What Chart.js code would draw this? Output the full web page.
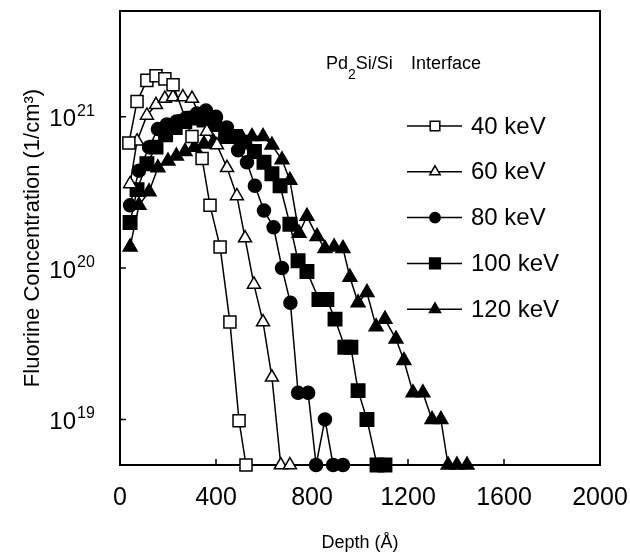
<!DOCTYPE html>
<html>
<head>
<meta charset="utf-8">
<script src="https://cdn.jsdelivr.net/npm/chart.js@4.4.0/dist/chart.umd.min.js"></script>
<style>
  html, body { margin: 0; padding: 0; background: #fff; }
</style>
</head>
<body>
<canvas id="grafica" width="630" height="554"></canvas>
<script>
// valor minimo del eje (puntos bajo el limite de deteccion se dibujan sobre el eje)
const FONDO = 5e18;

// profundidad (Å) y concentracion (1/cm3)
const prof40 = [37, 71, 112, 150, 187, 221, 300, 342, 375, 417, 458, 496, 525];
const conc40 = [6.7e20, 1.26e21, 1.74e21, 1.87e21, 1.78e21, 1.63e21, 7.4e20, 5.3e20, 2.6e20, 1.38e20, 4.4e19, 9.8e18, FONDO];

const prof60 = [42, 71, 112, 150, 187, 221, 262, 300, 362, 404, 446, 487, 521, 558, 596, 633, 670, 708];
const conc60 = [3.6e20, 6.9e20, 1.02e21, 1.2e21, 1.32e21, 1.35e21, 1.35e21, 1.32e21, 8.0e20, 6.5e20, 4.6e20, 3.0e20, 1.58e20, 7.8e19, 4.4e19, 1.9e19, FONDO, FONDO];

const prof80 = [42, 79, 121, 158, 195, 235, 275, 320, 358, 400, 445, 492, 529, 562, 600, 640, 675, 710, 742, 784, 817, 854, 888, 929];
const conc80 = [2.6e20, 4.4e20, 6.3e20, 8.3e20, 8.9e20, 9.3e20, 9.8e20, 1.05e21, 1.1e21, 1.0e21, 8.5e20, 6.0e20, 5.0e20, 3.5e20, 2.4e20, 1.86e20, 1.0e20, 5.9e19, 1.5e19, 1.5e19, FONDO, 1.0e19, FONDO, FONDO];

const prof100 = [42, 71, 112, 150, 190, 230, 270, 310, 350, 395, 440, 480, 520, 560, 600, 633, 667, 708, 742, 779, 829, 862, 896, 937, 962, 992, 1029, 1071, 1104];
const conc100 = [2.0e20, 3.3e20, 4.9e20, 6.3e20, 7.6e20, 8.5e20, 9.3e20, 9.8e20, 9.5e20, 8.9e20, 8.1e20, 7.4e20, 6.8e20, 5.9e20, 5.0e20, 4.2e20, 3.5e20, 1.95e20, 1.12e20, 9.5e19, 6.2e19, 6.2e19, 4.6e19, 3.0e19, 3.0e19, 1.55e19, 1.0e19, FONDO, FONDO];

const prof120 = [42, 79, 121, 158, 200, 235, 271, 310, 350, 390, 430, 470, 510, 550, 596, 633, 675, 708, 746, 779, 821, 854, 892, 929, 958, 992, 1029, 1067, 1104, 1150, 1183, 1221, 1262, 1300, 1337, 1367, 1404, 1446];
const conc120 = [1.38e20, 2.6e20, 3.2e20, 4.6e20, 5.1e20, 5.5e20, 5.9e20, 6.3e20, 6.6e20, 6.8e20, 7.1e20, 7.2e20, 7.2e20, 7.4e20, 7.4e20, 6.5e20, 5.2e20, 3.8e20, 1.7e20, 2.2e20, 1.62e20, 1.35e20, 1.38e20, 1.35e20, 8.7e19, 5.9e19, 6.9e19, 4.1e19, 4.6e19, 3.4e19, 2.45e19, 1.5e19, 1.5e19, 1.0e19, 1.0e19, FONDO, FONDO, FONDO];

const nombres = ["40 keV", "60 keV", "80 keV", "100 keV", "120 keV"];
const ticksX = [0, 400, 800, 1200, 1600, 2000];
const ticksY = [1e19, 1e20, 1e21];
const exponentesY = ["19", "20", "21"];

const FUENTE = "'Liberation Sans', Arial, sans-serif";

// estilo de marcador para cada serie
const marcadores = [
  { estilo: "rect", radio: 8.5, relleno: "#fff" },
  { estilo: "triangle", radio: 7.5, relleno: "#fff" },
  { estilo: "circle", radio: 6.5, relleno: "#000" },
  { estilo: "rect", radio: 9.5, relleno: "#000" },
  { estilo: "triangle", radio: 8, relleno: "#000" }
];

const series = [[prof40, conc40], [prof60, conc60], [prof80, conc80], [prof100, conc100], [prof120, conc120]];

const datasets = series.map(([p, c], i) => ({
  label: nombres[i],
  data: p.map((x, k) => ({ x: x, y: c[k] })),
  borderColor: "#000",
  borderWidth: 1.5,
  backgroundColor: marcadores[i].relleno,
  pointStyle: marcadores[i].estilo,
  pointRadius: marcadores[i].radio,
  pointBorderWidth: 1.5,
  pointBorderColor: "#000",
  pointBackgroundColor: marcadores[i].relleno,
  tension: 0,
  clip: false
}));

// marco y marcas hacia dentro
const marco = {
  id: "marco",
  beforeDatasetsDraw(chart) {
    const { ctx, chartArea: a, scales } = chart;
    ctx.save();
    ctx.strokeStyle = "#000";
    ctx.lineWidth = 2;
    ctx.strokeRect(a.left, a.top, a.right - a.left, a.bottom - a.top);
    ctx.lineWidth = 1.5;
    ctx.beginPath();
    ticksX.slice(1, -1).forEach(v => {
      const px = scales.x.getPixelForValue(v);
      ctx.moveTo(px, a.bottom);
      ctx.lineTo(px, a.bottom - 6);
    });
    ticksY.forEach(v => {
      const py = scales.y.getPixelForValue(v);
      ctx.moveTo(a.left, py);
      ctx.lineTo(a.left + 6, py);
    });
    ctx.stroke();
    ctx.restore();
  },
  afterDraw(chart) {
    const { ctx, scales } = chart;
    ctx.save();
    ctx.fillStyle = "#000";
    // etiquetas del eje y como potencias de diez
    ticksY.forEach((v, i) => {
      const py = scales.y.getPixelForValue(v);
      ctx.font = "24px " + FUENTE;
      ctx.textAlign = "right";
      ctx.textBaseline = "middle";
      ctx.fillText("10", 76, py + 3);
      ctx.font = "16px " + FUENTE;
      ctx.textAlign = "left";
      ctx.textBaseline = "alphabetic";
      ctx.fillText(exponentesY[i], 77, py - 1);
    });

    // texto Pd2Si/Si Interface
    ctx.font = "18px " + FUENTE;
    ctx.textAlign = "left";
    ctx.textBaseline = "alphabetic";
    ctx.fillText("Pd", 326, 69);
    const wPd = ctx.measureText("Pd").width;
    ctx.font = "14px " + FUENTE;
    ctx.fillText("2", 326 + wPd, 79);
    const w2 = ctx.measureText("2").width;
    ctx.font = "18px " + FUENTE;
    ctx.fillText("Si/Si", 326 + wPd + w2, 69);
    ctx.fillText("Interface", 411, 69);

    // leyenda
    nombres.forEach((nombre, i) => {
      const y = 126 + i * 45.8;
      ctx.strokeStyle = "#000";
      ctx.lineWidth = 1.5;
      ctx.beginPath();
      ctx.moveTo(407, y);
      ctx.lineTo(462, y);
      ctx.stroke();
      const m = marcadores[i];
      ctx.fillStyle = m.relleno;
      ctx.beginPath();
      const r = m.radio * 0.8;
      if (m.estilo === "rect") {
        const s = r * Math.SQRT1_2;
        ctx.rect(435 - s, y - s, 2 * s, 2 * s);
      } else if (m.estilo === "triangle") {
        for (let k = 0; k < 3; k++) {
          const ang = k * 2 * Math.PI / 3;
          const px = 435 + Math.sin(ang) * r, py = y - Math.cos(ang) * r;
          if (k === 0) ctx.moveTo(px, py); else ctx.lineTo(px, py);
        }
        ctx.closePath();
      } else {
        ctx.arc(435, y, r, 0, 2 * Math.PI);
      }
      ctx.fill();
      ctx.stroke();
      ctx.fillStyle = "#000";
      ctx.font = "24px " + FUENTE;
      ctx.textAlign = "left";
      ctx.textBaseline = "middle";
      ctx.fillText(nombre, 471, y + 1);
    });
    ctx.restore();
  }
};

const ctx = document.getElementById("grafica").getContext("2d");
new Chart(ctx, {
  type: "line",
  data: { datasets: datasets },
  options: {
    responsive: false,
    animation: false,
    layout: { padding: { top: 11, right: 30, left: 0, bottom: 0 } },
    plugins: {
      legend: { display: false },
      tooltip: { enabled: false }
    },
    scales: {
      x: {
        type: "linear",
        min: 0,
        max: 2000,
        afterBuildTicks: s => { s.ticks = ticksX.map(v => ({ value: v })); },
        afterFit: s => { s.height = 89; s.paddingLeft = 0; s.paddingRight = 0; },
        grid: { display: false, drawTicks: false },
        border: { display: false },
        ticks: { color: "#000", font: { family: FUENTE, size: 25 }, padding: 18, maxRotation: 0, callback: v => String(v) },
        title: { display: true, text: "Depth (Å)", color: "#000", font: { family: FUENTE, size: 18 }, padding: { top: 0, bottom: 0 } }
      },
      y: {
        type: "logarithmic",
        min: FONDO,
        max: 5e21,
        afterBuildTicks: s => { s.ticks = ticksY.map(v => ({ value: v })); },
        afterFit: s => { s.width = 120; s.paddingTop = 0; s.paddingBottom = 0; },
        grid: { display: false, drawTicks: false },
        border: { display: false },
        ticks: { display: false },
        title: { display: true, text: "Fluorine Concentration (1/cm³)", color: "#000", font: { family: FUENTE, size: 22 }, padding: { top: 20, bottom: 0 } }
      }
    }
  },
  plugins: [marco]
});
</script>
</body>
</html>
